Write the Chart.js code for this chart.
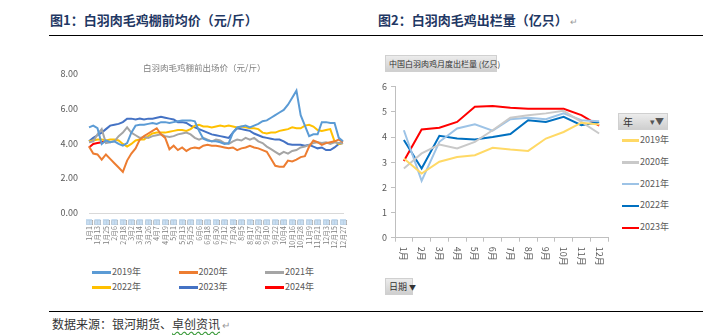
<!DOCTYPE html>
<html>
<head>
<meta charset="utf-8">
<script src="https://cdn.jsdelivr.net/npm/chart.js@4.4.1/dist/chart.umd.min.js"></script>
<style>
  body { margin: 0; width: 722px; height: 335px; background: #fff; position: relative; overflow: hidden;
         font-family: "Noto Sans CJK SC", sans-serif; }
  .abs { position: absolute; }
  .title { top: 13px; font-size: 13px; line-height: 13px; font-weight: bold; color: #1F3864; white-space: nowrap; }
  .ret { font-size: 9px; font-weight: normal; color: #999; margin-left: 2px; }
  .rule { left: 49px; width: 654px; height: 1px; background: #000; }
  .fieldbox { background: linear-gradient(#ececec, #cfcfcf); border: 1px solid #d0d0d0; box-sizing: border-box;
              font-size: 8px; line-height: 15px; color: #333; white-space: nowrap; }
  .leg { position: absolute; font-size: 9px; line-height: 10px; color: #595959; white-space: nowrap; }
  .leg i { display: inline-block; width: 19px; height: 2.5px; vertical-align: middle; margin-right: 1px; }
  .source { left: 52px; top: 318px; font-size: 12px; line-height: 12px; color: #333; white-space: nowrap; }
  .wavy { text-decoration: underline wavy #3a9a3a; text-underline-offset: 2px; }
</style>
</head>
<body>
<div class="abs title" style="left:50px">图1：白羽肉毛鸡棚前均价（元/斤）</div>
<div class="abs title" style="left:378px">图2：白羽肉毛鸡出栏量（亿只）<span class="ret">↵</span></div>
<div class="abs rule" style="top:35px"></div>

<canvas id="priceChart" class="abs" width="320" height="198" style="left:40px;top:55px"></canvas>

<div class="abs fieldbox" style="left:385px;top:55px;width:112px;height:17px;padding-left:3px">中国白羽肉鸡月度出栏量 (亿只)</div>
<canvas id="outChart" class="abs" width="250" height="200" style="left:370px;top:76px"></canvas>
<div class="abs fieldbox" style="left:618px;top:113px;width:50px;height:17px;font-size:10px;padding-left:4px">年<span style="position:absolute;right:3px;top:0;font-size:9px;color:#555">▾▼</span></div>
<div class="abs fieldbox" style="left:385px;top:278px;width:28px;height:17px;font-size:9px;padding-left:3px">日期 <span style="font-size:7px">▼</span></div>

<div class="abs rule" style="top:311px"></div>
<div class="abs source">数据来源：银河期货、<span class="wavy">卓创资讯</span><span class="ret" style="font-size:10px">↵</span></div>

<script>
// ---- 图1 data: price every 6 days, tick label every 12 days ----
const dateLabels = ["1月1日","1月13日","1月25日","2月6日","2月18日","3月2日","3月14日","3月26日","4月7日","4月19日",
  "5月1日","5月13日","5月25日","6月6日","6月18日","6月30日","7月12日","7月24日","8月5日","8月17日","8月29日",
  "9月10日","9月22日","10月4日","10月16日","10月28日","11月9日","11月21日","12月3日","12月15日","12月27日"];

const priceYears = ["2019年","2020年","2021年","2022年","2023年","2024年"];

const p2019 = [4.9,5.0,4.85,3.95,4.15,4.05,4.1,3.95,3.85,4.0,4.6,5.0,5.05,5.05,5.1,5.15,5.1,5.2,5.2,5.15,
  5.2,5.25,5.3,5.3,5.3,5.25,4.7,4.25,4.15,4.1,4.1,4.05,3.95,4.0,4.6,4.9,4.95,5.0,4.9,5.0,
  5.1,5.25,5.3,5.45,5.6,5.75,5.9,6.2,6.6,7.0,5.6,5.0,4.4,4.5,4.5,5.2,5.2,5.15,5.15,4.3,4.1];
const p2020 = [3.8,3.4,3.35,3.05,3.35,3.1,2.85,2.6,2.35,3.0,3.4,3.7,4.2,4.4,4.55,4.7,4.85,4.5,4.3,3.65,
  3.85,3.6,3.75,3.55,3.7,3.75,3.7,3.85,3.9,3.85,3.85,3.8,3.75,3.7,3.75,3.6,3.7,3.75,3.85,3.75,
  3.7,3.6,3.5,3.1,2.7,2.65,2.65,3.0,2.95,3.05,3.2,3.25,3.8,4.15,4.05,3.9,4.0,4.05,4.1,4.2,4.05];
const p2021 = [4.05,4.1,4.5,4.8,4.0,4.05,4.1,4.4,4.6,4.9,4.6,4.45,4.3,4.35,4.3,4.4,4.45,4.5,4.4,4.35,
  4.4,4.5,4.55,4.6,4.5,4.3,4.2,4.3,4.2,4.1,4.2,4.15,4.0,3.95,4.1,4.2,4.15,4.3,4.2,4.3,
  4.1,4.0,3.8,3.65,3.5,3.35,3.5,3.4,3.55,3.6,3.75,3.8,3.9,4.0,4.05,4.0,4.05,3.95,4.05,4.0,4.0];
const p2022 = [4.1,4.15,4.2,4.2,4.15,4.2,4.2,4.15,3.95,3.8,3.95,4.15,4.2,4.2,4.4,4.55,4.6,4.6,4.6,4.65,
  4.7,4.75,4.75,4.7,4.8,5.0,5.05,4.95,4.95,4.9,4.95,5.0,4.95,5.0,4.95,4.9,4.95,4.9,4.85,4.85,
  4.8,4.6,4.55,4.6,4.6,4.7,4.75,4.8,4.9,4.85,4.85,5.0,5.05,4.95,4.75,4.7,4.75,4.8,4.1,3.95,4.0];
const p2023 = [4.1,4.3,4.45,4.6,4.8,5.0,5.05,5.1,5.2,5.4,5.4,5.35,5.4,5.35,5.4,5.4,5.45,5.5,5.45,5.4,
  5.35,5.2,5.2,5.15,5.0,4.9,4.8,4.7,4.6,4.5,4.45,4.4,4.35,4.3,4.6,4.85,4.8,4.75,4.7,4.55,
  4.45,4.35,4.3,4.25,4.2,4.2,4.1,3.95,3.9,3.9,3.9,3.85,3.9,3.8,3.7,3.75,3.6,3.6,3.75,3.95,4.0];
const p2024 = [3.75,3.95,4.0,4.05,4.1];

// ---- 图2 data: monthly output (亿只) ----
const months = ["1月","2月","3月","4月","5月","6月","7月","8月","9月","10月","11月","12月"];
const outYears = ["2019年","2020年","2021年","2022年","2023年"];
const o2019 = [3.15,2.55,3.02,3.21,3.28,3.57,3.5,3.45,3.94,4.2,4.57,4.5];
const o2020 = [2.75,3.35,3.7,3.55,3.81,4.27,4.77,4.87,4.94,5.04,4.6,4.14];
const o2021 = [4.27,2.26,3.81,4.34,4.51,4.25,4.71,4.77,4.71,4.94,4.67,4.63];
const o2022 = [3.88,2.75,4.05,3.94,3.9,4.0,4.12,4.67,4.6,4.8,4.47,4.6];
const o2023 = [3.05,4.3,4.37,4.6,5.2,5.23,5.16,5.12,5.12,5.12,4.87,4.45];

const priceColors = ["#5B9BD5","#ED7D31","#A5A5A5","#FFC000","#4472C4","#FF0000"];
const outColors = ["#FFD966","#C9C9C9","#9DC3E6","#0070C0","#FF0000"];

Chart.defaults.font.family = '"Noto Sans CJK SC", "Liberation Sans", sans-serif';
Chart.defaults.color = "#595959";

// one label every second point (12 days)
const priceLabels = p2019.map((v, i) => i % 2 === 0 ? dateLabels[i / 2] : "");
const priceSeries = [p2019, p2020, p2021, p2022, p2023, p2024];

// the last glyph of each date label shows as a light box in the original
const dateBoxPlugin = {
  id: "dateBoxes",
  afterDraw(chart) {
    const xs = chart.scales.x, ctx = chart.ctx;
    ctx.save();
    ctx.fillStyle = "rgba(189,215,238,0.85)";
    priceLabels.forEach((l, i) => {
      if (!l) return;
      ctx.fillRect(xs.getPixelForTick(i) - 3, xs.top + 6, 6, 6);
    });
    ctx.restore();
  }
};

new Chart(document.getElementById("priceChart"), {
  type: "line",
  data: {
    labels: priceLabels,
    datasets: priceSeries.map((d, i) => ({
      label: priceYears[i],
      data: d,
      borderColor: priceColors[i],
      backgroundColor: priceColors[i],
      borderWidth: 2,
      pointRadius: 0,
      tension: 0
    }))
  },
  options: {
    responsive: false,
    animation: false,
    layout: { padding: { left: 0, right: 17, top: 0, bottom: 0 } },
    plugins: {
      legend: { display: false },
      tooltip: { enabled: false },
      title: {
        display: true,
        // leading ideographic spaces nudge the centred title to the right, as in the source
        text: "\u3000\u3000\u3000白羽肉毛鸡棚前出场价（元/斤）",
        color: "#7F7F7F",
        font: { size: 8.5, weight: "normal" },
        padding: { top: 8, bottom: 0 }
      }
    },
    scales: {
      x: {
        type: "category",
        grid: { display: false, drawTicks: false },
        border: { display: true, color: "#D9D9D9", width: 1 },
        ticks: { autoSkip: false, maxRotation: 90, minRotation: 90, padding: 6, font: { size: 7 }, color: "#7F7F7F" },
        afterFit: s => { s.height = 40; }
      },
      y: {
        min: 0, max: 8,
        grid: { display: false, drawTicks: false },
        border: { display: false },
        ticks: { stepSize: 2, padding: 11, font: { size: 9 }, callback: v => v.toFixed(2) },
        afterFit: s => { s.width = 49; }
      }
    }
  },
  plugins: [dateBoxPlugin]
});

// legend of 图1: 3 columns, 2 rows
priceYears.forEach((name, i) => {
  const el = document.createElement("div");
  el.className = "leg";
  el.style.left = (92 + (i % 3) * 86.5) + "px";
  el.style.top = (267 + Math.floor(i / 3) * 15) + "px";
  el.innerHTML = '<i style="background:' + priceColors[i] + '"></i>' + name;
  document.body.appendChild(el);
});

// month labels read top-to-bottom
const monthLabelPlugin = {
  id: "monthLabels",
  afterDraw(chart) {
    const xs = chart.scales.x, ctx = chart.ctx;
    ctx.save();
    ctx.fillStyle = "#595959";
    ctx.font = '9px "Noto Sans CJK SC"';
    ctx.textAlign = "left";
    ctx.textBaseline = "middle";
    months.forEach((m, i) => {
      ctx.save();
      ctx.translate(xs.getPixelForTick(i), xs.top + 9);
      ctx.rotate(Math.PI / 2);
      ctx.fillText(m, 0, 0);
      ctx.restore();
    });
    ctx.restore();
  }
};

const outSeries = [o2019, o2020, o2021, o2022, o2023];

new Chart(document.getElementById("outChart"), {
  type: "line",
  data: {
    labels: months,
    datasets: outSeries.map((d, i) => ({
      label: outYears[i],
      data: d,
      borderColor: outColors[i],
      backgroundColor: outColors[i],
      borderWidth: 2,
      pointRadius: 0,
      tension: 0
    }))
  },
  options: {
    responsive: false,
    animation: false,
    layout: { padding: { left: 0, right: 12, top: 10.7, bottom: 0 } },
    plugins: { legend: { display: false }, tooltip: { enabled: false } },
    scales: {
      x: {
        offset: true,
        grid: { offset: true, drawOnChartArea: false, drawTicks: true, tickLength: 4, color: "#BFBFBF" },
        border: { color: "#BFBFBF" },
        ticks: { display: false },
        afterFit: s => { s.height = 38.3; }
      },
      y: {
        min: 0, max: 6,
        grid: { drawOnChartArea: false, drawTicks: true, tickLength: 4, color: "#BFBFBF" },
        border: { color: "#BFBFBF" },
        ticks: { stepSize: 1, padding: 4, font: { size: 9 } },
        afterFit: s => { s.width = 25; }
      }
    }
  },
  plugins: [monthLabelPlugin]
});

outYears.forEach((name, i) => {
  const el = document.createElement("div");
  el.className = "leg";
  el.style.left = "622px";
  el.style.top = (135 + i * 21.8) + "px";
  el.innerHTML = '<i style="width:17px;background:' + outColors[i] + '"></i>' + name;
  document.body.appendChild(el);
});
</script>
</body>
</html>
